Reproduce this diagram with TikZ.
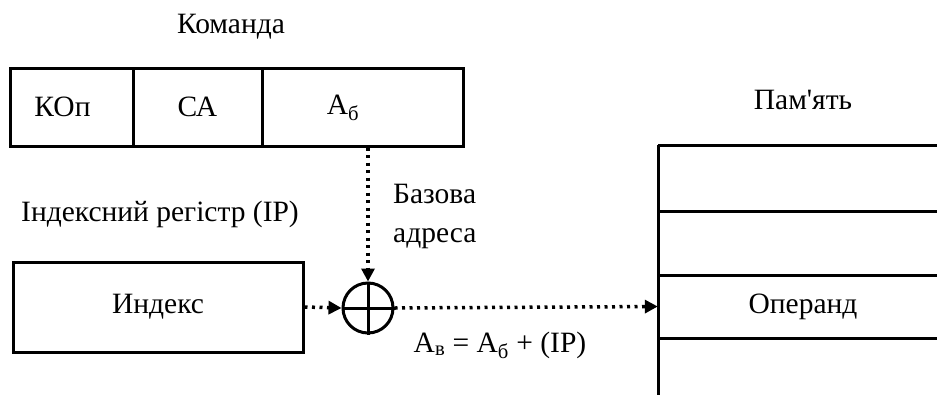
\documentclass[tikz,border=0pt]{standalone}
\usepackage{fontspec}
\setmainfont{Liberation Serif}[Ligatures=TeXOff]
\usetikzlibrary{arrows.meta}
\begin{document}
\begin{tikzpicture}[x=1pt,y=-1pt,
  font=\fontsize{29.5}{34}\selectfont,
  cell/.style={draw, line width=3pt, inner sep=0pt, minimum height=78pt},
  regbox/.style={draw, line width=3pt, inner sep=0pt},
  lbl/.style={inner sep=0pt, anchor=base},
  dotarrow/.style={line width=3.5pt, dash pattern=on 3pt off 4.5pt, -{Triangle[length=13pt,width=13pt]}},
  memline/.style={line width=3pt}]
\useasboundingbox (0,0) rectangle (937,394);
% command
\node[lbl] (cmdlbl) at (231,33) {Команда};
\node[cell, minimum width=123pt] (kop) at (71.5,107) {\hspace*{-18pt}КОп};
\node[cell, minimum width=129pt] (ca) at (197.5,107) {СА};
\node[cell, minimum width=201pt] (ab) at (362.5,107) {};
\node[inner sep=0pt] (abtxt) at (343,108) {А\textsubscript{б}};
% index register
\node[lbl] (iplbl) at (160,221) {Індексний регістр (IP)};
\node[regbox, minimum width=290pt, minimum height=90pt] (idx) at (158,307) {Индекс};
% adder
\node[draw, circle, line width=3pt, minimum size=50pt, inner sep=0pt] (sum) at (368,308) {};
\draw[line width=3pt] (sum.north) -- (sum.south) (sum.west) -- (sum.east);
% base address label
\node[inner sep=0pt, anchor=base west] (ba1) at (393,203) {Базова};
\node[inner sep=0pt, anchor=base west] (ba2) at (393,242) {адреса};
% memory
\node[lbl] (memlbl) at (803,109) {Пам'ять};
\coordinate (mtop) at (658,145);
\coordinate (mbot) at (658,397);
\draw[memline] (mtop) -- (mbot);
\draw[memline] (mtop) -- (940,145);
\draw[memline] (658,211) -- (940,211);
\draw[memline] (658,275) -- (940,275);
\draw[memline] (658,338) -- (940,338);
\node[inner sep=0pt, minimum width=290pt, minimum height=63pt] (op) at (803,306.5) {Операнд};
% connectors
\draw[dotarrow] (ab.south -| sum.north) -- (sum.north);
\draw[dotarrow] (idx.east) -- (sum.west);
\draw[dotarrow] (sum.east) -- (op.west);
\node[lbl] (eq) at (500,352) {А\textsubscript{в} = А\textsubscript{б} + (IP)};
\end{tikzpicture}
\end{document}
